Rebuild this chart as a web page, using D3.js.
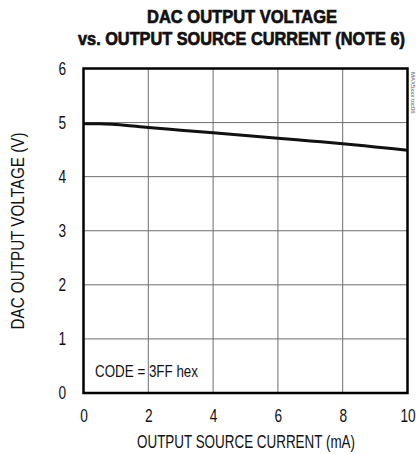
<!DOCTYPE html>
<html><head><meta charset="utf-8">
<script src="https://cdn.jsdelivr.net/npm/d3@7"></script>
<style>
html,body{margin:0;padding:0;background:#fff;}
svg text{font-family:"Liberation Sans","Arial",sans-serif;fill:#111;}
</style></head><body>
<svg id="c" width="416" height="454"></svg>
<script>
const titleLines = ["DAC OUTPUT VOLTAGE", "vs. OUTPUT SOURCE CURRENT (NOTE 6)"];
const xLabel = "OUTPUT SOURCE CURRENT (mA)";
const yLabel = "DAC OUTPUT VOLTAGE (V)";
const noteText = "CODE = 3FF hex";
const xTicks = [0, 2, 4, 6, 8, 10];
const yTicks = [0, 1, 2, 3, 4, 5, 6];
const current = [0, 0.5, 1, 2, 3, 4, 5, 6, 7, 8, 9, 10];
const voltage = [4.98, 4.98, 4.965, 4.91, 4.86, 4.81, 4.76, 4.71, 4.66, 4.61, 4.55, 4.49];

const svg = d3.select("#c");
const L = 83.5, R = 407.5, T = 68.5, B = 393;
const x = d3.scaleLinear().domain([0, 10]).range([L, R]);
const y = d3.scaleLinear().domain([0, 6]).range([B, T]);

function condense(sel, factor) {
  sel.each(function () {
    const w = this.getComputedTextLength();
    this.setAttribute("textLength", (w * factor).toFixed(2));
    this.setAttribute("lengthAdjust", "spacingAndGlyphs");
  });
}
function fitTo(sel, width) {
  sel.attr("textLength", width).attr("lengthAdjust", "spacingAndGlyphs");
}

// grid
svg.append("g").selectAll("line").data(xTicks.slice(1, -1)).join("line")
  .attr("x1", d => x(d)).attr("x2", d => x(d)).attr("y1", T).attr("y2", B)
  .attr("stroke", "#6e6e6e").attr("stroke-width", 1);
svg.append("g").selectAll("line").data(yTicks.slice(1, -1)).join("line")
  .attr("y1", d => y(d)).attr("y2", d => y(d)).attr("x1", L).attr("x2", R)
  .attr("stroke", "#6e6e6e").attr("stroke-width", 1);

// axes (tick labels only)
const xAxis = svg.append("g").attr("transform", `translate(0,${B})`)
  .call(d3.axisBottom(x).tickValues(xTicks).tickSize(0).tickPadding(15.5).tickFormat(d3.format("d")));
const yAxis = svg.append("g").attr("transform", `translate(${L},0)`)
  .call(d3.axisLeft(y).tickValues(yTicks).tickSize(0).tickPadding(17.5).tickFormat(d3.format("d")));
[xAxis, yAxis].forEach(a => {
  a.select(".domain").remove();
  a.selectAll("text").attr("font-size", 18.5).attr("fill", "#1a1a1a")
    .attr("font-family", '"Liberation Sans",Arial,sans-serif');
  condense(a.selectAll("text"), 0.74);
});

// frame
svg.append("rect").attr("x", L).attr("y", T).attr("width", R - L).attr("height", B - T)
  .attr("fill", "none").attr("stroke", "#000").attr("stroke-width", 2.5);

// curve
svg.append("path").datum(current.map((c, i) => [c, voltage[i]]))
  .attr("d", d3.line().x(d => x(d[0])).y(d => y(d[1])).curve(d3.curveMonotoneX))
  .attr("fill", "none").attr("stroke", "#111").attr("stroke-width", 3);

// note
svg.append("text").attr("x", 95).attr("y", 377).attr("font-size", 17).text(noteText)
  .call(fitTo, 103);

// titles (heavy condensed look)
svg.append("text").attr("x", 242).attr("y", 22.7).attr("text-anchor", "middle")
  .attr("font-size", 18.5).attr("font-weight", "bold")
  .attr("stroke", "#111").attr("stroke-width", 0.7)
  .text(titleLines[0]).call(fitTo, 190);
svg.append("text").attr("x", 241.5).attr("y", 44.5).attr("text-anchor", "middle")
  .attr("font-size", 18.5).attr("font-weight", "bold")
  .attr("stroke", "#111").attr("stroke-width", 0.7)
  .text(titleLines[1]).call(fitTo, 327);

svg.append("text").attr("x", 246).attr("y", 448.3).attr("text-anchor", "middle")
  .attr("font-size", 18).text(xLabel).call(fitTo, 218);
svg.append("text").attr("transform", `translate(24,231) rotate(-90)`)
  .attr("text-anchor", "middle").attr("font-size", 18).text(yLabel).call(fitTo, 197);

// side tag
svg.append("text").attr("transform", "translate(411,72) rotate(90)")
  .attr("font-size", 6).style("fill", "#555").text("MAX5xxx toc06");
</script></body></html>
